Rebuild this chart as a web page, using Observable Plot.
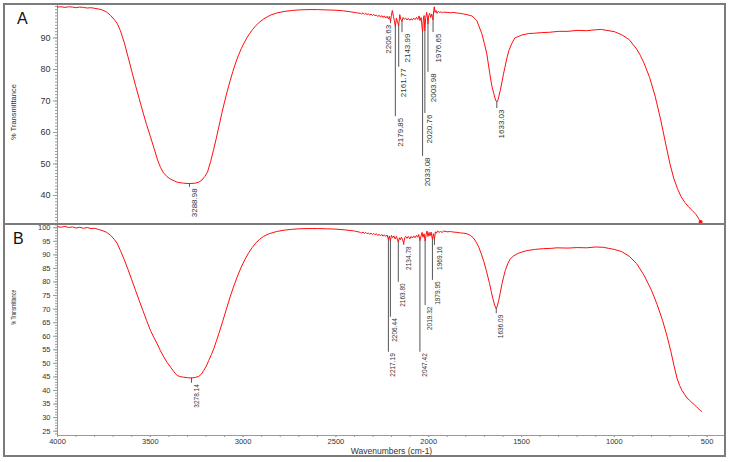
<!DOCTYPE html>
<html><head><meta charset="utf-8">
<script src="https://cdn.jsdelivr.net/npm/d3@7"></script>
<script src="https://cdn.jsdelivr.net/npm/@observablehq/plot@0.6"></script>
<style>
body{margin:0;background:#fff;}
#wrap{position:relative;width:732px;height:462px;background:#fff;font-family:"Liberation Sans",Arial,sans-serif;overflow:hidden}
#wrap svg{position:absolute;left:0}
.ov{position:absolute;box-sizing:border-box;pointer-events:none}
.lab{position:absolute;font-size:16px;line-height:1;color:#111;font-family:"Liberation Sans",Arial,sans-serif}
</style></head><body>
<div id="wrap"></div>
<script>
// ---- Data ----
const spectrumA = [
[4000,99.8],[3980,99.9],[3960,99.7],[3940,99.9],[3920,99.8],[3900,99.6],[3880,99.8],[3860,99.7],[3840,99.5],[3820,99.6],[3800,99.4],[3780,99.2],[3765,99.0],[3750,98.7],[3735,98.2],[3715,97.2],[3695,95.9],[3678,94.6],[3661,92.3],[3640,88.5],[3620,84.0],[3600,79.5],[3580,75.0],[3560,70.8],[3540,66.5],[3520,62.5],[3500,58.8],[3480,55.0],[3461,51.3],[3445,48.9],[3429,47.2],[3410,46.0],[3391,45.2],[3370,44.6],[3354,44.2],[3320,43.9],[3289,43.8],[3260,43.9],[3240,44.2],[3222,44.9],[3207,46.0],[3192,47.4],[3175,50.8],[3160,54.3],[3145,58.0],[3130,62.0],[3115,66.0],[3100,69.7],[3085,73.2],[3070,76.4],[3055,79.4],[3040,82.1],[3025,84.5],[3010,86.6],[2995,88.4],[2980,90.0],[2965,91.4],[2950,92.6],[2930,94.0],[2910,95.1],[2890,96.0],[2870,96.7],[2850,97.3],[2820,97.9],[2780,98.4],[2740,98.7],[2700,98.9],[2650,99.0],[2600,99.0],[2550,98.9],[2500,98.8],[2460,98.6],[2420,98.3],[2390,98.0],
[2368,97.8],[2361,97.6],[2354,98.0],[2346,97.5],[2339,97.8],[2332,97.4],[2325,97.7],[2318,97.2],[2311,97.6],[2303,97.1],[2296,97.5],[2289,97.0],[2282,97.3],[2275,96.8],[2267,97.2],[2260,96.6],[2253,97.1],[2246,96.5],[2239,97.0],[2232,96.3],[2224,96.9],[2217,96.0],[2212,96.8],[2205.6,95.3],[2201,97.2],[2196,98.7],[2190,96.8],[2185,95.5],[2179.9,93.6],[2174,96.3],[2169,95.3],[2161.8,93.9],[2156,97.4],[2151,96.0],[2144,95.3],[2138,96.5],[2131,95.9],[2124,96.3],[2117,95.7],[2110,96.2],[2102,95.6],[2095,96.1],[2088,95.7],[2081,96.3],[2074,95.8],[2066,96.5],[2059,95.9],[2052,97.0],[2047,95.5],[2041,96.5],[2033.1,91.8],[2029,96.0],[2025,97.1],[2020.8,92.3],[2016,96.5],[2011,98.1],[2007,96.5],[2004,94.4],[2000,97.1],[1995,97.8],[1989,96.5],[1984,97.6],[1980,96.8],[1976.7,95.7],[1973,98.7],[1970,99.9],[1966,98.1],[1961,98.7],[1955,97.8],[1948,98.5],[1941,98.0],[1934,98.3],[1926,98.0],[1919,98.2],[1901,98.1],[1883,98.0],[1865,98.1],[1847,97.9],[1829,97.8],[1812,97.6],[1794,97.4],[1776,97.1],
[1767,97.0],[1741,95.5],[1714,91.4],[1700,88.2],[1687,85.0],[1671,78.7],[1660,74.8],[1649,72.3],[1640,70.3],[1633,69.7],[1627,70.3],[1622,71.5],[1614,73.5],[1606,75.8],[1598,78.3],[1590,80.5],[1578,83.8],[1568,86.0],[1552,88.3],[1536,90.0],[1500,90.9],[1461,91.4],[1430,91.5],[1391,91.7],[1350,91.8],[1299,92.1],[1250,92.1],[1200,92.4],[1150,92.3],[1100,92.6],[1070,92.7],[1040,92.4],[1000,92.0],[960,91.0],[920,89.5],[880,86.5],[860,84.5],[840,82.0],[810,77.5],[780,71.5],[750,64.0],[720,55.5],[700,50.0],[680,45.5],[660,42.2],[640,39.6],[620,37.8],[600,36.4],[580,35.2],[560,34.0],[545,32.6],[535,31.6]
];
const spectrumB = [
[4000,100.4],[3980,100.2],[3960,100.5],[3940,100.1],[3920,100.3],[3900,99.9],[3880,100.2],[3860,99.8],[3840,100.1],[3820,99.7],[3800,99.8],[3780,99.4],[3760,99.0],[3735,98.3],[3714,97.2],[3695,95.8],[3678,94.2],[3661,91.6],[3640,88.2],[3620,84.6],[3600,80.8],[3580,77.0],[3560,73.2],[3540,69.5],[3520,65.8],[3499,62.1],[3481,59.6],[3463,57.2],[3445,54.6],[3427,52.3],[3409,50.3],[3391,48.6],[3373,46.9],[3355,45.5],[3338,45.1],[3320,44.9],[3298,44.7],[3278,44.6],[3258,44.8],[3239,45.2],[3225,46.0],[3212,47.4],[3198,49.0],[3185,51.1],[3171,53.2],[3158,55.4],[3145,58.0],[3131,60.9],[3110,65.5],[3090,70.0],[3070,74.5],[3050,78.5],[3030,82.2],[3010,85.5],[2990,88.3],[2970,90.8],[2950,92.8],[2930,94.5],[2910,95.8],[2890,96.8],[2860,97.8],[2820,98.6],[2780,99.1],[2740,99.4],[2700,99.6],[2650,99.7],[2600,99.7],[2550,99.6],[2500,99.5],[2450,99.2],[2400,98.8],[2380,98.5],
[2368,98.3],[2361,98.0],[2354,98.4],[2346,97.9],[2339,98.3],[2332,97.8],[2325,98.1],[2318,97.6],[2311,98.0],[2303,97.5],[2296,97.9],[2289,97.4],[2282,97.8],[2275,97.2],[2267,97.6],[2260,97.0],[2253,97.5],[2246,96.9],[2239,97.4],[2232,96.8],[2224,97.3],[2217.2,95.6],[2212,97.0],[2206.4,95.1],[2201,97.2],[2194,96.3],[2188,97.0],[2181,95.9],[2174,96.8],[2169,95.8],[2163.8,94.7],[2158,96.3],[2153,95.6],[2147,96.5],[2142,95.8],[2134.8,94.3],[2129,96.3],[2124,96.8],[2117,96.1],[2110,96.8],[2102,95.9],[2095,96.8],[2088,96.2],[2081,97.0],[2074,96.3],[2066,97.2],[2059,96.5],[2054,97.5],[2047.4,95.3],[2041,97.0],[2036,98.3],[2031,96.5],[2025,97.8],[2019.3,95.1],[2014,97.5],[2009,98.8],[2004,96.8],[1998,98.3],[1993,97.0],[1987,98.4],[1980,95.6],[1975,97.8],[1969.2,95.9],[1964,98.5],[1959,98.0],[1952,98.8],[1944,98.3],[1937,98.6],[1928,98.3],[1919,98.8],[1901,98.5],[1883,98.6],[1865,98.4],[1847,98.3],[1829,98.1],[1812,98.0],[1794,97.8],[1776,97.2],
[1760,96.3],[1744,94.7],[1730,92.8],[1717,90.4],[1703,87.5],[1690,84.3],[1672,79.4],[1663,76.5],[1654,73.8],[1645,71.5],[1636,70.1],[1630,71.2],[1623,73.2],[1614,76.2],[1605,79.4],[1596,82.0],[1587,84.3],[1574,86.8],[1560,88.6],[1542,89.6],[1524,90.4],[1500,91.0],[1470,91.6],[1430,92.0],[1382,92.3],[1340,92.4],[1309,92.6],[1250,92.5],[1200,92.7],[1150,92.6],[1100,92.9],[1060,92.8],[1030,92.4],[1000,92.0],[960,91.2],[920,89.5],[880,86.8],[840,82.5],[800,77.0],[770,71.8],[740,65.8],[715,59.8],[695,54.3],[678,49.0],[662,44.5],[648,41.8],[635,40.0],[620,38.4],[608,37.2],[595,36.4],[583,35.6],[570,34.8],[556,33.9],[545,33.2],[537,32.6],[530,32.3]
];
const peakWnA    = [3288.98, 2205.63, 2179.85, 2161.77, 2143.99, 2033.08, 2020.76, 2003.98, 1976.65, 1633.03];
const peakLabelA = ["3288.98","2205.63","2179.85","2161.77","2143.99","2033.08","2020.76","2003.98","1976.65","1633.03"];
const peakTA     = [43.8, 95.3, 93.6, 93.9, 95.3, 91.8, 92.3, 94.4, 95.7, 69.7];
const peakLevelA = [42.6, 94.5, 65.0, 80.7, 91.7, 52.4, 66.0, 79.1, 91.7, 67.6];
const peakWnB    = [3278.14, 2217.19, 2206.44, 2163.80, 2134.78, 2047.42, 2019.32, 1979.95, 1969.16, 1636.09];
const peakLabelB = ["3278.14","2217.19","2206.44","2163.80","2134.78","2047.42","2019.32","1979.95","1969.16","1636.09"];
const peakTB     = [44.6, 95.6, 95.1, 94.7, 94.3, 95.3, 95.1, 95.6, 95.9, 70.1];
const peakLevelB = [42.7, 54.1, 67.0, 79.9, 93.5, 54.1, 71.3, 80.6, 93.5, 68.3];
const yTicksA = [40, 50, 60, 70, 80, 90];
const yTicksB = [25, 30, 35, 40, 45, 50, 55, 60, 65, 70, 75, 80, 85, 90, 95, 100];
const xTicks = [4000, 3500, 3000, 2500, 2000, 1500, 1000, 500];
const yMinorA = d3.range(31, 101);
const yMinorB = d3.range(24, 102);
const xMinor = d3.range(500, 4001, 100);
const xTitle = "Wavenumbers (cm-1)";
const yTitle = "% Transmittance";

// ---- Build ----
const toRows = s => s.map(([wn, t]) => ({wn, t}));
const mkPeaks = (w, l, t, v) => w.map((wn, i) => ({wn, label: l[i], t: t[i], level: v[i]}));
const peaksA = mkPeaks(peakWnA, peakLabelA, peakTA, peakLevelA);
const peaksB = mkPeaks(peakWnB, peakLabelB, peakTB, peakLevelB);
const rowsA = toRows(spectrumA), rowsB = toRows(spectrumB);
const RED = "#ff0d0d", AX = "#9a9a9a", TXT = "#333";
const font = {fontFamily: "'Liberation Sans', Arial, sans-serif", background: "transparent", overflow: "visible"};
const xDom = [4000, 401];
const plain = d => String(d);

const plotA = Plot.plot({
  width: 732, height: 225, marginLeft: 57, marginRight: 7, marginTop: 5, marginBottom: 1,
  style: font,
  x: {domain: xDom, axis: null},
  y: {domain: [30.8, 100.3]},
  marks: [
    Plot.ruleX([4000], {stroke: AX}),
    Plot.axisY(yMinorA, {tickSize: 2, tickFormat: () => "", stroke: AX, label: null}),
    Plot.axisY(yTicksA, {tickSize: 4, tickPadding: 3, fontSize: 9, fill: TXT, stroke: AX, label: null, tickFormat: plain}),
    Plot.line(rowsA, {x: "wn", y: "t", stroke: RED, strokeWidth: 1}),
    Plot.dot([rowsA[rowsA.length - 1]], {x: "wn", y: "t", r: 2, fill: RED, stroke: "none"}),
    Plot.ruleX(peaksA, {x: "wn", y1: "t", y2: "level", stroke: "#555", strokeWidth: 1}),
    Plot.text(peaksA, {filter: d => d.label !== "2205.63", x: "wn", y: "level", text: "label", rotate: -90, textAnchor: "end", dx: 5, dy: 1, fontSize: 8, fill: TXT}),
    Plot.text(peaksA, {filter: d => d.label === "2205.63", x: "wn", y: "level", text: "label", rotate: -90, textAnchor: "end", dx: -2, dy: 1, fontSize: 8, fill: TXT}),
    Plot.text([yTitle], {text: d => d, frameAnchor: "left", dx: -44, dy: 25, rotate: -90, fontSize: 7.5, fill: TXT})
  ]
});

const plotB = Plot.plot({
  width: 732, height: 238, marginLeft: 57, marginRight: 7, marginTop: 0, marginBottom: 27,
  style: font,
  x: {domain: xDom},
  y: {domain: [23.4, 101.2]},
  marks: [
    Plot.ruleX([4000], {stroke: AX}),
    Plot.ruleY([23.4], {stroke: AX}),
    Plot.axisY(yMinorB, {tickSize: 2, tickFormat: () => "", stroke: AX, label: null}),
    Plot.axisY(yTicksB, {tickSize: 4, tickPadding: 3, fontSize: 7.5, fill: TXT, stroke: AX, label: null, tickFormat: plain}),
    Plot.axisX(xMinor, {tickSize: 2, tickFormat: () => "", stroke: AX, label: null}),
    Plot.axisX(xTicks, {tickSize: 2, tickPadding: 1, fontSize: 7.5, fill: TXT, stroke: AX, label: null, tickFormat: plain}),
    Plot.line(rowsB, {x: "wn", y: "t", stroke: RED, strokeWidth: 1}),
    Plot.ruleX(peaksB, {x: "wn", y1: "t", y2: "level", stroke: "#555", strokeWidth: 1}),
    Plot.text(peaksB, {x: "wn", y: "level", text: "label", rotate: -90, textAnchor: "end", dx: 5, dy: 1, fontSize: 6.5, fill: TXT}),
    Plot.text([xTitle], {text: d => d, frameAnchor: "bottom", dy: 18, fontSize: 8.5, fill: TXT}),
    Plot.text([yTitle], {text: d => d, frameAnchor: "left", dx: -44, dy: -5, rotate: -90, fontSize: 7, fill: TXT})
  ]
});

const wrap = document.getElementById("wrap");
plotA.style.top = "0px";
plotB.style.top = "224px";
wrap.appendChild(plotA);
wrap.appendChild(plotB);
plotB.querySelectorAll("text").forEach(t => {
  if (t.textContent === yTitle) { t.setAttribute("textLength", 35); t.setAttribute("lengthAdjust", "spacingAndGlyphs"); }
});

// frame overlays
const addDiv = (cls, css, txt) => { const d = document.createElement("div"); d.className = cls; d.style.cssText = css; if (txt) d.textContent = txt; wrap.appendChild(d); };
addDiv("ov", "left:3px;top:3px;width:723px;height:454px;border:2px solid #7b7b7b;");
addDiv("ov", "left:3px;top:223px;width:723px;height:2px;background:#7b7b7b;");
addDiv("lab", "left:17px;top:10.5px;", "A");
addDiv("lab", "left:13px;top:230.5px;", "B");
</script>
</body></html>
